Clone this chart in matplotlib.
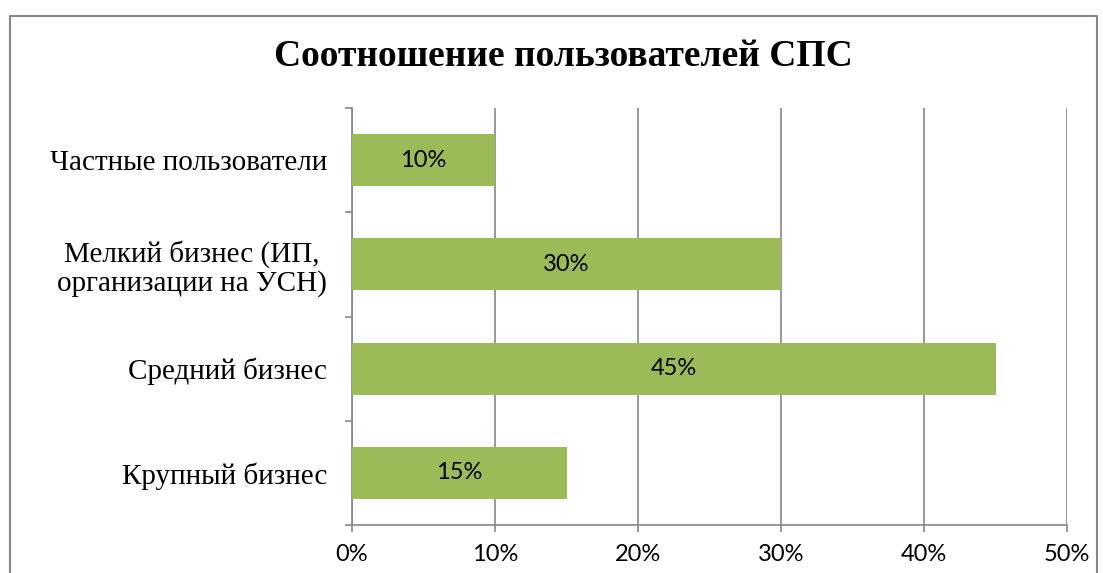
import matplotlib.pyplot as plt
import matplotlib.patches as mpatches
import numpy as np

categories = ['Частные пользователи',
              'Мелкий бизнес (ИП,\nорганизации на УСН)',
              'Средний бизнес',
              'Крупный бизнес']
values = [10, 30, 45, 15]
xticks = [0, 10, 20, 30, 40, 50]

bar_color = '#9BBB59'
grid_color = '#868686'

fig = plt.figure(figsize=(11.03, 5.73), dpi=100)
ax = fig.add_axes([352 / 1103, 1 - 525 / 573, 715 / 1103, 417 / 573])

# outer chart frame
fig.patches.append(mpatches.Rectangle((10 / 1103, -0.1), 1087 / 1103, 1.1 - 16 / 573,
                                      transform=fig.transFigure, fill=False,
                                      edgecolor=grid_color, linewidth=1.5))

y = np.arange(len(categories))
bars = ax.barh(y, values, height=0.5, color=bar_color, zorder=3)
ax.bar_label(bars, labels=[f'{v}%' for v in values], label_type='center',
             family='Lato', fontsize=17, color='black')

ax.set_xlim(0, 50)
ax.set_ylim(len(categories) - 0.5, -0.5)
ax.set_xticks(xticks)
ax.set_xticklabels([f'{t}%' for t in xticks], family='Lato', fontsize=17)
ax.set_yticks(y)
ax.set_yticklabels(categories, family='Liberation Serif', fontsize=21,
                   multialignment='center', linespacing=1.1)
ax.set_yticks(np.arange(len(categories) + 1) - 0.5, minor=True)

ax.tick_params(axis='y', which='major', length=0, pad=18)
ax.tick_params(axis='y', which='minor', length=5, width=1.2, color=grid_color)
ax.tick_params(axis='x', which='major', length=5, width=1.2, color=grid_color, pad=9)

ax.grid(axis='x', color=grid_color, linewidth=1.2, zorder=0)
for s in ['top', 'right']:
    ax.spines[s].set_visible(False)
for s in ['left', 'bottom']:
    ax.spines[s].set_color(grid_color)
    ax.spines[s].set_linewidth(1.2)

fig.text(563 / 1103, 1 - 57 / 573, 'Соотношение пользователей СПС',
         family='Liberation Serif', fontweight='bold', fontsize=27,
         ha='center', va='center')

fig.savefig('out.png', dpi=100)
